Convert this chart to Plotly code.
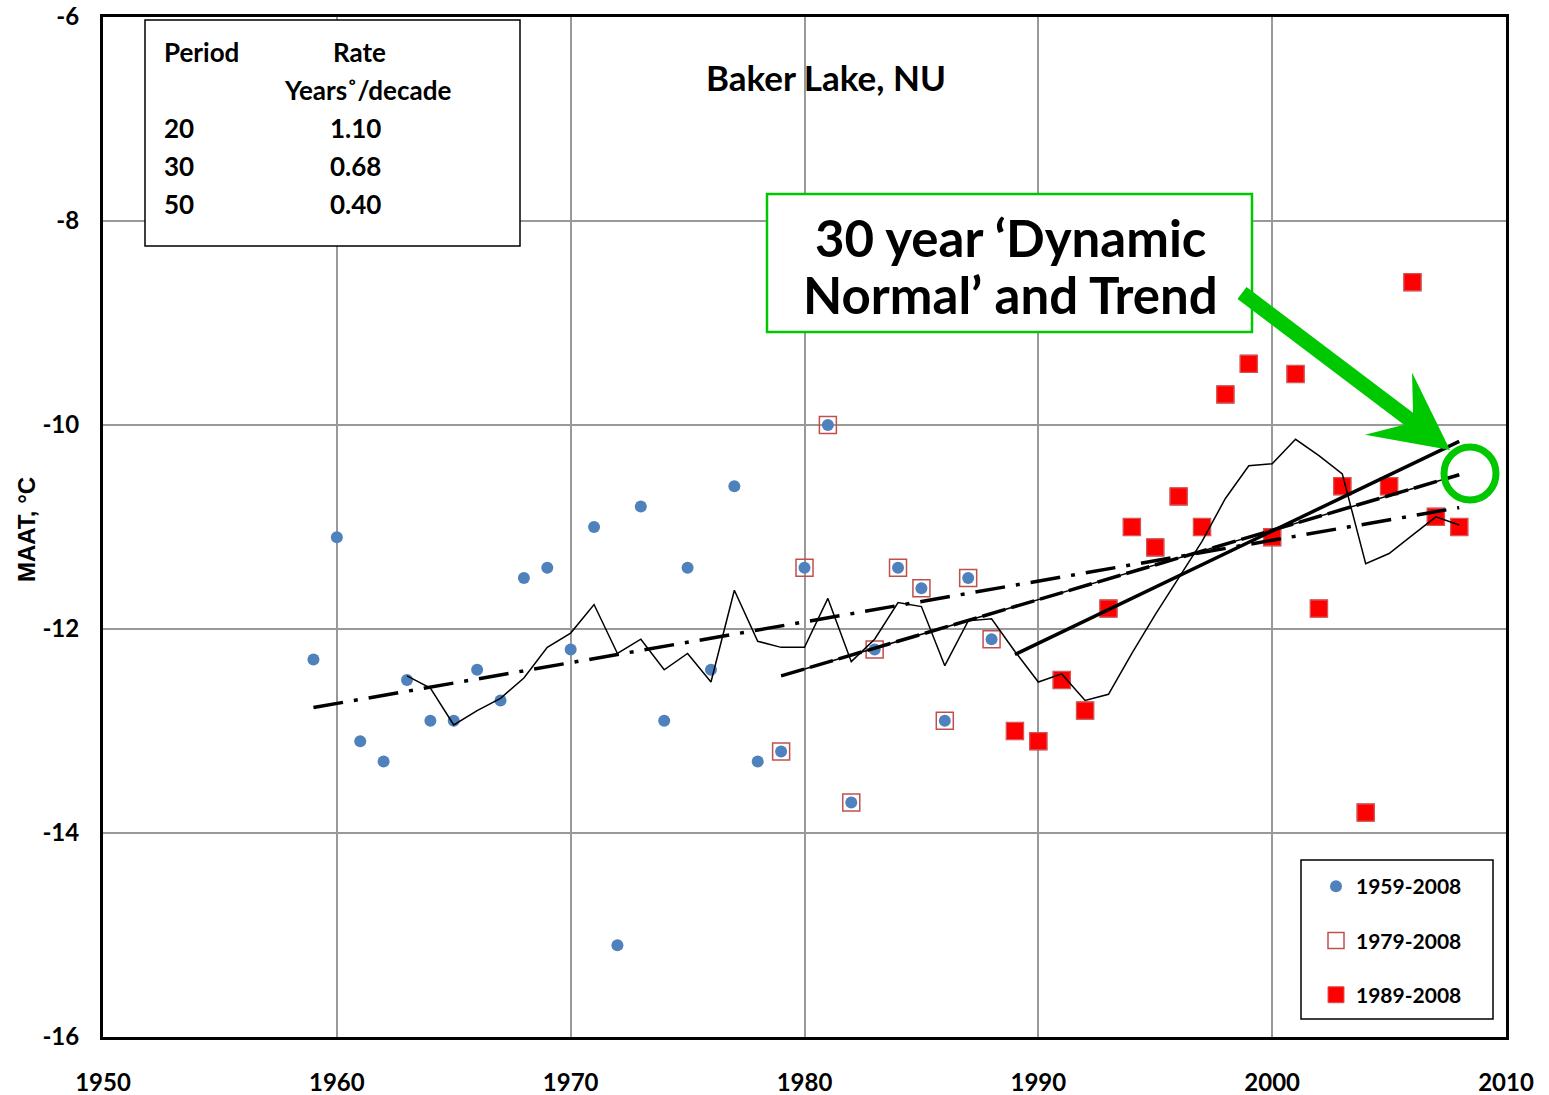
import numpy as np
import pandas as pd
import plotly.graph_objects as go

# Mean annual air temperature, Baker Lake NU
years = list(range(1959, 2009))
maat = [-12.3, -11.1, -13.1, -13.3, -12.5, -12.9, -12.9, -12.4, -12.7, -11.5,
        -11.4, -12.2, -11.0, -15.1, -10.8, -12.9, -11.4, -12.4, -10.6, -13.3,
        -13.2, -11.4, -10.0, -13.7, -12.2, -11.4, -11.6, -12.9, -11.5, -12.1,
        -13.0, -13.1, -12.5, -12.8, -11.8, -11.0, -11.2, -10.7, -11.0, -9.7,
        -9.4, -11.1, -9.5, -11.8, -10.6, -13.8, -10.6, -8.6, -10.9, -11.0]

# Linear trends: period length, rate (deg/decade), start year and start value
periods = [20, 30, 50]
rates = [1.10, 0.68, 0.40]
trend_start_year = [1989, 1979, 1959]
trend_start_value = [-12.25, -12.46, -12.77]
trend_end_year = 2008

series_names = ["1959-2008", "1979-2008", "1989-2008"]

x_ticks = [1950, 1960, 1970, 1980, 1990, 2000, 2010]
y_ticks = [-16, -14, -12, -10, -8, -6]
y_tick_labels = ["-16", "-14", "-12", "-10", "-8", "-6"]

df = pd.DataFrame({"year": years, "maat": maat})
df["mean5"] = df["maat"].rolling(5).mean()   # 5-year trailing mean
open_sq = df[df["year"] >= 1979]
fill_sq = df[df["year"] >= 1989]

W, H = 1549, 1095
L, R, T, B = 103, 43, 17, 58
PW, PH = W - L - R, H - T - B


def px_x(p):
    return (p - L) / PW


def px_y(p):
    return (T + PH - p) / PH


fig = go.Figure()

fig.add_trace(go.Scatter(
    x=df["year"], y=df["maat"], mode="markers", name=series_names[0],
    legendgroup="a",
    marker=dict(symbol="circle", size=12, color="#4f81bd"),
))
fig.add_trace(go.Scatter(
    x=open_sq["year"], y=open_sq["maat"], mode="markers", name=series_names[1],
    legendgroup="b",
    marker=dict(symbol="square", size=17, color="rgba(255,255,255,0)",
                line=dict(color="#c0504d", width=1.5)),
))
fig.add_trace(go.Scatter(
    x=fill_sq["year"], y=fill_sq["maat"], mode="markers", name=series_names[2],
    legendgroup="c",
    marker=dict(symbol="square", size=17, color="#ff0000",
                line=dict(color="#d65a5a", width=1)),
))

# 5-year running mean
fig.add_trace(go.Scatter(
    x=df["year"], y=df["mean5"], mode="lines", showlegend=False,
    line=dict(color="black", width=1.5),
))


def trend(i):
    xs = np.array([trend_start_year[i], trend_end_year], dtype=float)
    ys = trend_start_value[i] + rates[i] / 10.0 * (xs - trend_start_year[i])
    return xs, ys


# 50-year trend (dash-dot)
x50, y50 = trend(2)
fig.add_trace(go.Scatter(x=x50, y=y50, mode="lines", showlegend=False,
                         line=dict(color="black", width=3.5, dash="30px,11px,4px,11px")))
# 30-year 'dynamic normal' trend (thin solid + dashed)
x30, y30 = trend(1)
fig.add_trace(go.Scatter(x=x30, y=y30, mode="lines", showlegend=False,
                         line=dict(color="black", width=1.5)))
fig.add_trace(go.Scatter(x=x30, y=y30, mode="lines", showlegend=False,
                         line=dict(color="black", width=3.5, dash="24px,6px")))
# 20-year trend (solid)
x20, y20 = trend(0)
fig.add_trace(go.Scatter(x=x20, y=y20, mode="lines", showlegend=False,
                         line=dict(color="black", width=3.5)))

shapes = []
annotations = []

# Rate table box
shapes.append(dict(type="rect", xref="paper", yref="paper",
                   x0=px_x(145), x1=px_x(520), y0=px_y(246), y1=px_y(20),
                   line=dict(color="black", width=1.5), fillcolor="white", layer="above"))
tfont = dict(family="Lato", size=26, color="black", weight="bold")


def table_text(text, x, y, anchor):
    annotations.append(dict(text=text, xref="paper", yref="paper", x=px_x(x), y=px_y(y),
                            xanchor=anchor, yanchor="middle", showarrow=False, font=tfont))


table_text("Period", 162, 52, "left")
table_text("Rate", 359, 52, "center")
table_text("Years˚/decade", 367, 90, "center")
for k, (p, r) in enumerate(zip(periods, rates)):
    yy = 128 + 38 * k
    table_text(str(p), 162, yy, "left")
    table_text(f"{r:.2f}", 355, yy, "center")

# Station title
annotations.append(dict(text="Baker Lake, NU", xref="paper", yref="paper",
                        x=px_x(826), y=px_y(77), xanchor="center", yanchor="middle",
                        showarrow=False,
                        font=dict(family="Lato", size=35, color="black", weight="bold")))

# Y-axis title
annotations.append(dict(text="MAAT, °C", xref="paper", yref="paper",
                        x=px_x(26), y=px_y(530), xanchor="center", yanchor="middle",
                        textangle=-90, showarrow=False,
                        font=dict(family="Liberation Sans", size=24, color="black", weight="bold")))

# Callout box
green = "#00c800"
shapes.append(dict(type="rect", xref="paper", yref="paper",
                   x0=px_x(767), x1=px_x(1252), y0=px_y(332), y1=px_y(194),
                   line=dict(color=green, width=2.5), fillcolor="white", layer="above"))
cfont = dict(family="Lato", size=51, color="black", weight="bold")
annotations.append(dict(text="30 year ‘Dynamic", xref="paper", yref="paper",
                        x=px_x(1010), y=px_y(237), xanchor="center", yanchor="middle",
                        showarrow=False, font=cfont))
annotations.append(dict(text="Normal’ and Trend", xref="paper", yref="paper",
                        x=px_x(1010), y=px_y(294), xanchor="center", yanchor="middle",
                        showarrow=False, font=cfont))

# Callout arrow (barbed head), built in pixel space then mapped to paper
tail = np.array([1242.0, 293.0])
tip = np.array([1450.0, 450.0])
u = (tip - tail) / np.linalg.norm(tip - tail)
n = np.array([-u[1], u[0]])
shaft_hw, head_len, head_hw, notch = 7.5, 77.0, 39.0, 52.0
pts = [tail + n * shaft_hw,
       tip - u * notch + n * shaft_hw,
       tip - u * head_len + n * head_hw,
       tip,
       tip - u * head_len - n * head_hw,
       tip - u * notch - n * shaft_hw,
       tail - n * shaft_hw]
path = "M " + " L ".join(f"{px_x(p[0]):.5f},{px_y(p[1]):.5f}" for p in pts) + " Z"
shapes.append(dict(type="path", xref="paper", yref="paper", path=path,
                   fillcolor=green, line=dict(width=0), layer="above"))

# Highlight ring at the end of the trends
shapes.append(dict(type="circle", xref="paper", yref="paper",
                   x0=px_x(1444), x1=px_x(1496), y0=px_y(500), y1=px_y(447),
                   line=dict(color=green, width=7), layer="above"))

# Legend frame (the legend itself is drawn borderless inside it)
shapes.append(dict(type="rect", xref="paper", yref="paper",
                   x0=px_x(1301), x1=px_x(1493), y0=px_y(1019), y1=px_y(860),
                   line=dict(color="black", width=1.5), fillcolor="white", layer="above"))

axis_font = dict(family="Lato", size=24, color="black", weight="bold")

fig.update_layout(
    width=W, height=H,
    margin=dict(l=L, r=R, t=T, b=B, autoexpand=False),
    paper_bgcolor="white", plot_bgcolor="white",
    shapes=shapes, annotations=annotations,
    showlegend=True,
    legend=dict(
        x=px_x(1316), y=px_y(866), xanchor="left", yanchor="top",
        bgcolor="rgba(0,0,0,0)", borderwidth=0,
        font=dict(family="Lato", size=21, color="black", weight="bold"),
        traceorder="grouped", tracegroupgap=24,
    ),
    xaxis=dict(
        range=[1950, 2010], tickvals=x_ticks, showgrid=True,
        gridcolor="#999999", gridwidth=2, zeroline=False,
        showline=True, linecolor="black", linewidth=3, mirror=True,
        ticks="", tickfont=axis_font, ticklabelstandoff=22, automargin=False,
    ),
    yaxis=dict(
        range=[-16, -6], tickvals=y_ticks, ticktext=y_tick_labels, showgrid=True,
        gridcolor="#999999", gridwidth=2, zeroline=False,
        showline=True, linecolor="black", linewidth=3, mirror=True,
        ticks="", tickfont=axis_font, ticklabelstandoff=16, automargin=False,
    ),
)

fig.write_html("out.html")
